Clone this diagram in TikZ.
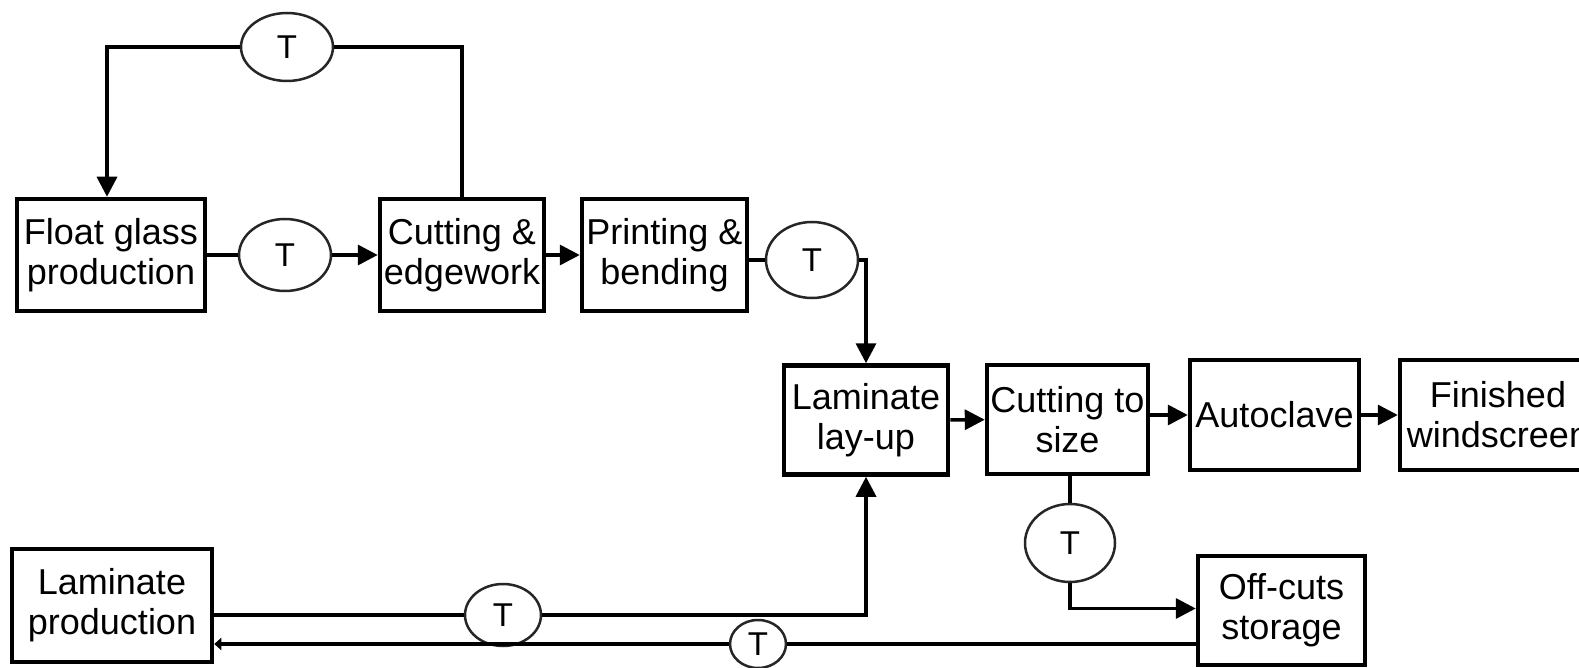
\documentclass[tikz,border=0pt]{standalone}
\usepackage{fontspec}
\setmainfont{Liberation Sans}
\usetikzlibrary{arrows.meta,shapes.geometric}
\begin{document}
\begin{tikzpicture}[x=1pt,y=-1pt,
  box/.style={draw=black,line width=4.5pt,fill=white,inner sep=0pt,align=center,font=\fontsize{36}{40}\selectfont},
  tcirc/.style={ellipse,draw=black!85,line width=2.5pt,fill=white,inner sep=0pt,font=\fontsize{33}{34}\selectfont},
  conn/.style={line width=3.5pt,black},
  arr/.style={conn,-{Triangle[length=20pt,width=20pt]}},
  sarr/.style={conn,-{Triangle[length=7pt,width=12pt]}}]
\useasboundingbox (0,0) rectangle (1579,668);
% boxes
\node[box,minimum width=188pt,minimum height=112pt] (float) at (111,255) {Float glass\\production};
\node[box,minimum width=164pt,minimum height=112pt] (cutedge) at (462,255) {Cutting \&\\edgework};
\node[box,minimum width=165pt,minimum height=112pt] (print) at (664.5,255) {Printing \&\\bending};
\node[box,minimum width=164pt,minimum height=109pt] (layup) at (866,420) {Laminate\\lay-up};
\node[box,minimum width=161pt,minimum height=109pt] (cutsize) at (1067.5,419.5) {Cutting to\\size};
\node[box,minimum width=169pt,minimum height=110pt] (autoclave) at (1274.5,415) {Autoclave};
\node[box,minimum width=196pt,minimum height=110pt] (finished) at (1498,415) {Finished\\windscreen};
\node[box,minimum width=200pt,minimum height=113pt] (lamprod) at (112,605.5) {Laminate\\production};
\node[box,minimum width=167pt,minimum height=109pt] (offcuts) at (1281.5,610.5) {Off-cuts\\storage};
% T nodes
\node[tcirc,minimum width=92pt,minimum height=68pt] (Ttop) at (287,47) {T};
\node[tcirc,minimum width=92pt,minimum height=72pt] (T1) at (285,255) {T};
\node[tcirc,minimum width=92pt,minimum height=76pt] (T2) at (812,260) {T};
\node[tcirc,minimum width=90pt,minimum height=78pt] (T3) at (1070,543) {T};
\node[tcirc,minimum width=76pt,minimum height=62pt] (T4) at (503,615) {T};
\node[tcirc,minimum width=56pt,minimum height=48pt] (T5) at (758,644) {T};
\coordinate (loopL) at (107,47);
% connectors
\draw[conn] (float) -- (T1);
\draw[arr] (T1) -- (cutedge);
\draw[arr] (cutedge) -- (print);
\draw[conn] (print.east |- T2) -- (T2);
\draw[arr] (T2.east) -| (layup.north);
\draw[conn] (cutedge.north) |- (Ttop);
\draw[arr] (Ttop) -| (float.north -| loopL);
\draw[arr] (layup) -- (cutsize);
\draw[arr] (cutsize.east |- autoclave) -- (autoclave);
\draw[arr] (autoclave) -- (finished);
\draw[conn] (cutsize.south -| T3) -- (T3);
\draw[arr] (T3) |- ([yshift=2pt]offcuts.west);
\draw[conn] (lamprod.east |- T4) -- (T4);
\draw[arr] (T4) -| (layup.south);
\draw[conn] (offcuts.west |- T5) -- (T5);
\draw[sarr] (T5) -- (lamprod.east |- T5);
\end{tikzpicture}
\end{document}
